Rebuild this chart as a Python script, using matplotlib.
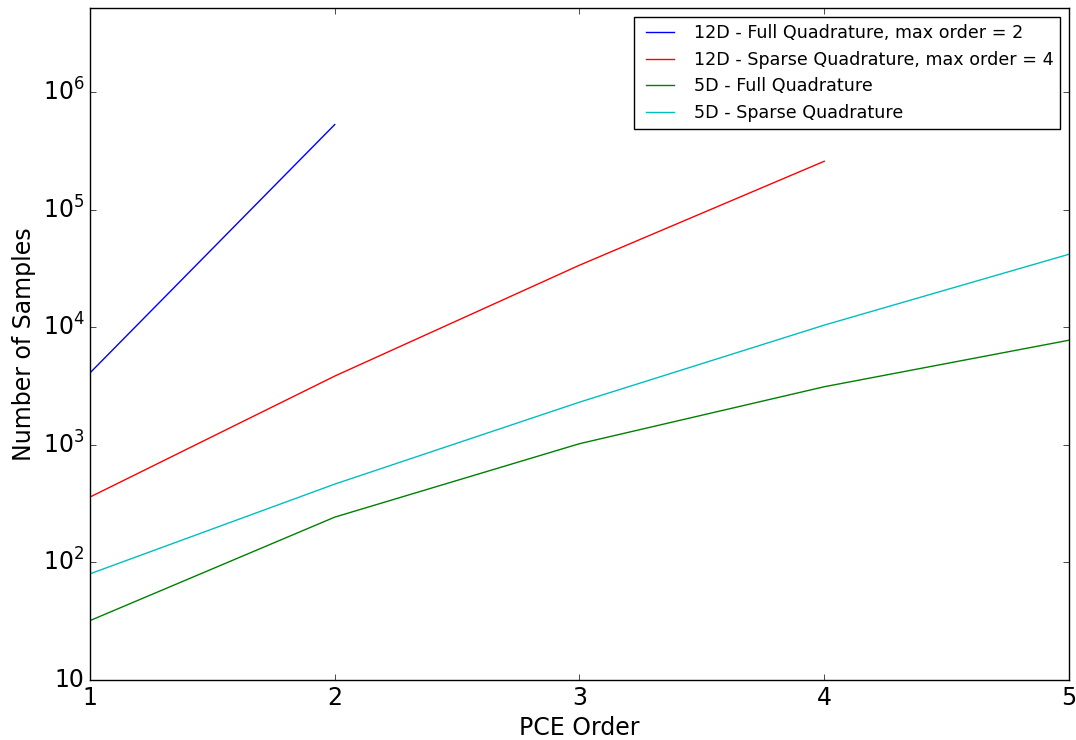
import math
import matplotlib
matplotlib.use('Agg')
import matplotlib.pyplot as plt
from matplotlib.ticker import FixedLocator, FuncFormatter, NullLocator

# Number of quadrature points per PCE order
orders_12d_full = [1, 2]
samples_12d_full = [4096, 531441]

orders_12d_sparse = [1, 2, 3, 4]
samples_12d_sparse = [360, 3850, 33800, 259000]

orders_5d = [1, 2, 3, 4, 5]
samples_5d_full = [32, 243, 1024, 3125, 7776]
samples_5d_sparse = [80, 464, 2310, 10450, 41900]

y_ticks = [10, 1e2, 1e3, 1e4, 1e5, 1e6]


def tick_label(v, pos):
    if v == 10:
        return "10"
    return r"$10^{%d}$" % round(math.log10(v))


def plot_samples():
    plt.style.use('classic')
    plt.rcParams['mathtext.fontset'] = 'dejavusans'
    plt.rcParams['mathtext.default'] = 'regular'

    fig = plt.figure(figsize=(10.76, 7.4), dpi=100)
    fig.patch.set_facecolor('white')
    ax = fig.add_axes([0.0836, 0.0811, 0.9099, 0.9079])

    ax.plot(orders_12d_full, samples_12d_full, color='b', lw=1,
            label="12D - Full Quadrature, max order = 2")
    ax.plot(orders_12d_sparse, samples_12d_sparse, color='r', lw=1,
            label="12D - Sparse Quadrature, max order = 4")
    ax.plot(orders_5d, samples_5d_full, color='g', lw=1,
            label="5D - Full Quadrature")
    ax.plot(orders_5d, samples_5d_sparse, color='c', lw=1,
            label="5D - Sparse Quadrature")

    ax.set_yscale('log')
    ax.set_xlim(1, 5)
    ax.set_ylim(10, 5.2e6)
    ax.xaxis.set_major_locator(FixedLocator([1, 2, 3, 4, 5]))
    ax.yaxis.set_major_locator(FixedLocator(y_ticks))
    ax.yaxis.set_major_formatter(FuncFormatter(tick_label))
    ax.yaxis.set_minor_locator(NullLocator())
    ax.xaxis.set_minor_locator(NullLocator())
    ax.tick_params(labelsize=17)

    ax.set_xlabel("PCE Order", fontsize=17)
    ax.set_ylabel("Number of Samples", fontsize=17)

    ax.legend(loc='upper right', fontsize=12.6, handlelength=2.2,
              borderaxespad=0.5)

    fig.savefig("out.png", dpi=100, facecolor='white')


if __name__ == "__main__":
    plot_samples()
